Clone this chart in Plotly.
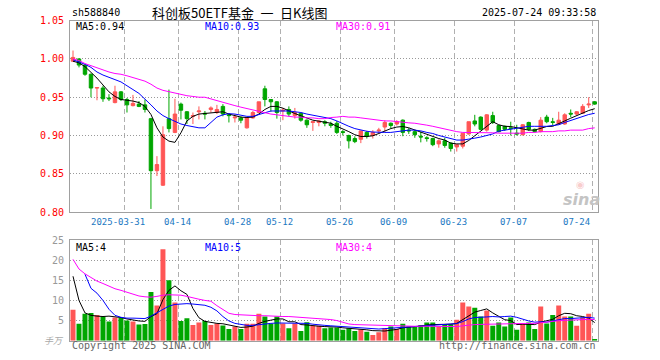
import plotly.graph_objects as go

# ---------------- data ----------------
dates = ["2025-03-18","2025-03-19","2025-03-20","2025-03-21","2025-03-24","2025-03-25","2025-03-26","2025-03-27","2025-03-28","2025-03-31",
         "2025-04-01","2025-04-02","2025-04-03","2025-04-07","2025-04-08","2025-04-09","2025-04-10","2025-04-11","2025-04-14","2025-04-15",
         "2025-04-16","2025-04-17","2025-04-18","2025-04-21","2025-04-22","2025-04-23","2025-04-24","2025-04-25","2025-04-28","2025-04-29",
         "2025-04-30","2025-05-06","2025-05-07","2025-05-08","2025-05-09","2025-05-12","2025-05-13","2025-05-14","2025-05-15","2025-05-16",
         "2025-05-19","2025-05-20","2025-05-21","2025-05-22","2025-05-23","2025-05-26","2025-05-27","2025-05-28","2025-05-29","2025-05-30",
         "2025-06-03","2025-06-04","2025-06-05","2025-06-06","2025-06-09","2025-06-10","2025-06-11","2025-06-12","2025-06-13","2025-06-16",
         "2025-06-17","2025-06-18","2025-06-19","2025-06-20","2025-06-23","2025-06-24","2025-06-25","2025-06-26","2025-06-27","2025-06-30",
         "2025-07-01","2025-07-02","2025-07-03","2025-07-04","2025-07-07","2025-07-08","2025-07-09","2025-07-10","2025-07-11","2025-07-14",
         "2025-07-15","2025-07-16","2025-07-17","2025-07-18","2025-07-21","2025-07-22","2025-07-23","2025-07-24"]

opens = [0.997,1.000,0.992,0.980,0.962,0.962,0.949,0.943,0.957,0.947,
         0.939,0.941,0.940,0.922,0.854,0.835,0.922,0.904,0.941,0.931,
         0.925,0.931,0.929,0.934,0.930,0.938,0.927,0.923,0.923,0.910,
         0.923,0.930,0.961,0.947,0.944,0.932,0.934,0.926,0.929,0.920,
         0.917,0.917,0.918,0.915,0.916,0.905,0.900,0.896,0.895,0.904,
         0.900,0.906,0.911,0.916,0.915,0.920,0.907,0.905,0.899,0.897,
         0.896,0.889,0.893,0.890,0.885,0.886,0.902,0.919,0.924,0.907,
         0.926,0.913,0.912,0.910,0.903,0.901,0.917,0.908,0.905,0.924,
         0.918,0.915,0.915,0.929,0.928,0.929,0.940,0.944]
highs = [1.011,1.001,0.993,0.981,0.963,0.965,0.954,0.965,0.958,0.949,
         0.953,0.945,0.947,0.923,0.873,0.912,0.960,0.948,0.943,0.932,
         0.930,0.938,0.932,0.938,0.940,0.941,0.929,0.928,0.925,0.924,
         0.932,0.944,0.965,0.947,0.945,0.936,0.938,0.936,0.930,0.921,
         0.918,0.920,0.920,0.918,0.919,0.907,0.901,0.899,0.906,0.906,
         0.907,0.910,0.920,0.917,0.920,0.921,0.910,0.907,0.905,0.899,
         0.897,0.895,0.897,0.891,0.889,0.903,0.918,0.927,0.925,0.928,
         0.931,0.914,0.913,0.918,0.914,0.915,0.918,0.909,0.924,0.927,
         0.923,0.931,0.929,0.934,0.932,0.941,0.950,0.945]
lows = [0.996,0.989,0.978,0.950,0.946,0.944,0.945,0.942,0.945,0.930,
        0.938,0.937,0.930,0.804,0.847,0.834,0.904,0.903,0.921,0.915,
        0.915,0.921,0.921,0.930,0.928,0.925,0.917,0.917,0.916,0.909,
        0.922,0.929,0.938,0.931,0.922,0.920,0.925,0.922,0.918,0.910,
        0.906,0.912,0.912,0.910,0.902,0.900,0.883,0.890,0.890,0.896,
        0.896,0.902,0.905,0.909,0.913,0.899,0.902,0.897,0.891,0.892,
        0.886,0.884,0.884,0.879,0.879,0.883,0.901,0.912,0.907,0.905,
        0.915,0.904,0.906,0.900,0.900,0.900,0.906,0.904,0.904,0.916,
        0.913,0.914,0.914,0.924,0.926,0.928,0.936,0.940]
closes = [1.002,0.992,0.980,0.962,0.9625,0.948,0.948,0.957,0.947,0.940,
          0.942,0.938,0.934,0.854,0.862,0.901,0.909,0.928,0.933,0.922,
          0.926,0.932,0.928,0.936,0.934,0.928,0.926,0.924,0.920,0.923,
          0.930,0.944,0.947,0.944,0.930,0.933,0.928,0.930,0.920,0.914,
          0.918,0.919,0.916,0.913,0.904,0.904,0.893,0.892,0.906,0.899,
          0.904,0.907,0.917,0.913,0.918,0.904,0.906,0.901,0.898,0.896,
          0.888,0.893,0.887,0.883,0.888,0.903,0.918,0.915,0.908,0.927,
          0.917,0.905,0.908,0.909,0.902,0.914,0.908,0.905,0.920,0.918,
          0.917,0.920,0.927,0.928,0.931,0.938,0.941,0.941]

ma5 = [0.997,0.995,0.990,0.983,0.975,0.966,0.957,0.951,0.947,0.946,
       0.945,0.943,0.938,0.9275,0.910,0.898,0.8926,0.891,0.9035,0.919,
       0.925,0.928,0.9287,0.930,0.931,0.931,0.928,0.9257,0.924,0.9235,
       0.924,0.928,0.934,0.938,0.938,0.9357,0.932,0.9287,0.9257,0.9226,
       0.920,0.9187,0.917,0.916,0.912,0.909,0.905,0.901,0.8987,0.8987,
       0.8996,0.9026,0.906,0.909,0.911,0.9117,0.910,0.907,0.904,0.901,
       0.898,0.896,0.894,0.890,0.889,0.889,0.8935,0.8996,0.906,0.9126,
       0.918,0.914,0.912,0.9117,0.910,0.908,0.907,0.907,0.909,0.9117,
       0.912,0.915,0.919,0.9226,0.926,0.9296,0.9326,0.935]
ma10 = [0.999,0.9965,0.993,0.989,0.983,0.979,0.9755,0.973,0.970,0.9646,
        0.960,0.955,0.948,0.940,0.932,0.926,0.922,0.918,0.915,0.913,
        0.911,0.910,0.910,0.917,0.924,0.927,0.9285,0.928,0.9265,0.925,
        0.925,0.927,0.930,0.932,0.932,0.932,0.932,0.931,0.930,0.928,
        0.9265,0.925,0.9235,0.922,0.919,0.915,0.912,0.909,0.907,0.9055,
        0.9045,0.904,0.904,0.904,0.905,0.906,0.907,0.907,0.906,0.904,
        0.9026,0.900,0.898,0.8957,0.894,0.894,0.895,0.8965,0.898,0.8996,
        0.902,0.9057,0.907,0.909,0.9096,0.911,0.912,0.912,0.912,0.912,
        0.913,0.914,0.917,0.9196,0.922,0.925,0.9274,0.929]
ma30 = [1.000,0.998,0.994,0.991,0.988,0.985,0.983,0.981,0.980,0.978,
        0.976,0.974,0.971,0.967,0.962,0.959,0.957,0.955,0.954,0.952,
        0.951,0.950,0.950,0.948,0.946,0.944,0.941,0.939,0.937,0.935,
        0.933,0.931,0.929,0.928,0.927,0.926,0.925,0.924,0.924,0.923,
        0.923,0.922,0.922,0.9235,0.924,0.925,0.924,0.924,0.923,0.922,
        0.921,0.920,0.919,0.919,0.918,0.917,0.9165,0.916,0.915,0.9135,
        0.912,0.910,0.908,0.906,0.905,0.904,0.904,0.904,0.9035,0.9035,
        0.9035,0.903,0.903,0.903,0.903,0.903,0.904,0.904,0.905,0.905,
        0.905,0.906,0.906,0.907,0.907,0.907,0.909,0.910]

volumes = [7.7,4.2,6.7,6.9,6.4,6.0,4.75,5.75,5.65,5.0,
           4.75,4.0,4.15,12.1,8.75,22.7,15.0,9.5,4.9,5.6,
           3.9,4.5,4.9,3.9,4.3,3.75,2.9,3.5,2.9,4.2,
           4.2,6.7,6.0,4.2,6.0,4.3,3.1,4.3,2.4,4.6,
           3.7,3.7,3.1,3.25,3.25,2.7,3.1,2.4,2.8,2.25,
           1.4,2.1,3.1,3.5,2.9,4.2,3.5,3.5,3.9,4.5,
           4.5,3.5,4.1,4.1,5.2,9.5,8.5,8.2,6.0,7.5,
           3.7,4.5,3.5,5.75,2.7,4.2,4.5,2.9,8.5,4.3,
           6.4,8.75,6.0,6.0,3.7,5.75,6.7,0.4]
vma5 = [16.0,10.0,6.9,6.3,6.1,6.0,6.1,6.0,5.75,5.4,
        5.1,4.9,4.8,6.0,6.7,10.2,12.5,13.6,12.4,11.5,
        8.0,5.7,4.8,4.5,4.3,4.2,3.9,3.7,3.3,3.4,
        3.6,4.3,4.8,5.1,5.4,5.4,4.7,4.7,4.0,3.9,
        3.7,3.6,3.5,3.5,3.4,3.2,3.1,2.9,2.8,2.7,
        2.5,2.4,2.4,2.6,2.8,3.2,3.4,3.5,3.6,3.9,
        4.0,4.0,4.1,4.1,4.3,5.3,6.3,7.1,7.5,7.9,
        6.9,6.1,5.2,5.0,4.0,4.1,4.1,4.0,4.6,4.9,
        5.3,6.2,6.8,6.7,6.2,6.0,5.6,4.5]
vma10 = [None,None,16.5,13.0,11.8,10.0,7.8,6.3,5.8,5.6,
         5.6,5.6,5.5,6.1,6.9,7.8,8.6,9.0,9.1,9.2,
         9.1,9.0,8.8,8.3,7.4,6.0,4.9,4.3,4.0,3.8,
         3.8,4.0,4.1,4.3,4.4,4.4,4.4,4.4,4.4,4.3,
         4.1,3.9,3.8,3.7,3.6,3.5,3.3,3.2,3.1,3.0,
         2.9,2.9,3.0,3.1,3.2,3.25,3.3,3.4,3.5,3.7,
         3.75,3.8,3.9,4.0,4.25,4.75,5.4,5.75,5.9,5.9,
         6.0,5.9,6.0,6.1,5.8,5.3,4.9,4.6,4.7,4.6,
         4.9,5.3,5.5,5.5,5.6,5.7,5.8,5.6]
vma30 = [20.2,17.8,16.6,15.6,14.8,14.2,13.5,12.9,12.5,12.0,
         11.6,11.1,10.9,10.8,11.0,11.3,11.4,11.4,11.3,11.0,
         10.6,10.3,10.0,9.8,8.7,7.8,6.8,6.5,6.4,6.3,
         6.25,6.2,6.2,6.1,6.0,6.0,6.0,5.9,5.9,5.8,
         5.7,5.6,5.5,5.25,5.0,4.5,4.15,4.0,3.95,3.85,
         3.75,3.7,3.65,3.6,3.55,3.56,3.58,3.58,3.6,3.6,
         3.6,3.53,3.48,3.48,3.5,3.7,3.9,4.0,4.05,4.1,
         4.1,4.15,4.15,4.2,4.2,4.25,4.3,4.3,4.5,4.6,
         4.75,4.95,5.05,5.15,5.2,5.25,5.3,5.25]

label_dates = ["2025-03-31","2025-04-14","2025-04-28","2025-05-12","2025-05-26",
               "2025-06-09","2025-06-23","2025-07-07","2025-07-24"]
label_texts = ["2025-03-31","04-14","04-28","05-12","05-26","06-09","06-23","07-07","07-24"]
price_ticks = [0.80, 0.85, 0.90, 0.95, 1.00, 1.05]
vol_ticks = [5, 10, 15, 20, 25]

code = "sh588840"
title = "科创板50ETF基金\u2002一\u2002日K线图"
stamp = "2025-07-24 09:33:58"
legend_price = ["MA5:0.94", "MA10:0.93", "MA30:0.91"]
legend_vol = ["MA5:4", "MA10:5", "MA30:4"]

# ---------------- styling ----------------
RED = "#ff5656"
GREEN = "#00a600"
MONO = "DejaVu Sans Mono"
W, H = 660, 360
X0, X1 = 70, 597.7
P_TOP, P_BOT = 20.7, 212.0
V_TOP, V_BOT = 240.0, 340.7

def py(px):
    return 1 - px / H

x = list(range(len(dates)))
grid_idx = [dates.index(d) for d in label_dates]
vol_colors = [RED if c >= o else GREEN for o, c in zip(opens, closes)]

fig = go.Figure()
fig.add_trace(go.Candlestick(
    x=x, open=opens, high=highs, low=lows, close=closes,
    increasing=dict(line=dict(color=RED, width=1), fillcolor=RED),
    decreasing=dict(line=dict(color=GREEN, width=1), fillcolor=GREEN),
    whiskerwidth=0, hoverinfo="skip", xaxis="x", yaxis="y"))
for ys, col in [(ma5, "black"), (ma10, "#0000ff"), (ma30, "#ff00ff")]:
    fig.add_trace(go.Scatter(x=x, y=ys, mode="lines", line=dict(color=col, width=1),
                             hoverinfo="skip", xaxis="x", yaxis="y"))
fig.add_trace(go.Bar(x=x, y=volumes, marker=dict(color=vol_colors, line=dict(width=0)),
                     width=0.83, hoverinfo="skip", xaxis="x2", yaxis="y2"))
for ys, col in [(vma5, "black"), (vma10, "#0000ff"), (vma30, "#ff00ff")]:
    fig.add_trace(go.Scatter(x=x, y=ys, mode="lines", line=dict(color=col, width=1),
                             hoverinfo="skip", xaxis="x2", yaxis="y2"))

xdom = [X0 / W, X1 / W]
gridvals = [i - 0.42 for i in grid_idx]
xcommon = dict(domain=xdom, range=[-0.5, len(dates) - 0.5], tickvals=gridvals,
               showticklabels=False, ticks="", showgrid=True, griddash="5px,3px",
               gridcolor="#b0b0b0", gridwidth=1, showline=True, mirror=True,
               linecolor="#a0a0a0", linewidth=1, zeroline=False, fixedrange=True,
               automargin=False)

fig.update_layout(
    width=W, height=H, autosize=False, margin=dict(l=0, r=0, t=0, b=0, pad=0),
    paper_bgcolor="white", plot_bgcolor="white", showlegend=False,
    boxgap=0.18, bargap=0.1, hovermode=False,
    xaxis=dict(**xcommon, anchor="y", rangeslider=dict(visible=False)),
    xaxis2=dict(**xcommon, anchor="y2"),
    yaxis=dict(domain=[py(P_BOT), py(P_TOP)], range=[0.80, 1.05], tickvals=price_ticks,
               ticktext=["%.2f" % v for v in price_ticks], ticks="",
               tickfont=dict(family=MONO, size=10, color="#ff0000"),
               showgrid=True, griddash="1px,2px", gridcolor="#999999", gridwidth=1,
               showline=True, mirror=True, linecolor="#a0a0a0", linewidth=1,
               zeroline=False, anchor="x", ticklabelstandoff=3, automargin=False,
               fixedrange=True),
    yaxis2=dict(domain=[py(V_BOT), py(V_TOP)], range=[0, 25], tickvals=vol_ticks,
                ticktext=[str(v) for v in vol_ticks], ticks="",
                tickfont=dict(family=MONO, size=10, color="#999999"),
                showgrid=True, griddash="1px,2px", gridcolor="#999999", gridwidth=1,
                showline=True, mirror=True, linecolor="#a0a0a0", linewidth=1,
                zeroline=False, anchor="x2", ticklabelstandoff=3, automargin=False,
                fixedrange=True),
)

ann = []
def txt(t, xp, yp, anchor="left", color="black", size=10, family=MONO, **kw):
    ann.append(dict(text=t, x=xp / W, y=py(yp), xref="paper", yref="paper",
                    xanchor=anchor, yanchor="middle", showarrow=False,
                    font=dict(family=family, size=size, color=color, **kw)))

txt(code, 70, 13)
txt(title, 150, 12.5, size=13, family="Noto Sans CJK SC, Noto Sans, sans-serif")
txt(stamp, 598, 13, anchor="right")
for t, xp, c in zip(legend_price, [74, 203, 334], ["black", "#0000ff", "#ff00ff"]):
    txt(t, xp, 26.5, color=c)
for t, xp, c in zip(legend_vol, [74, 203, 334], ["black", "#0000ff", "#ff00ff"]):
    txt(t, xp, 247, color=c)
txt("手万", 66, 340, anchor="right", color="#aaaaaa", size=9,
    family="Noto Sans CJK SC, sans-serif", style="italic")
txt("Copyright 2025 SINA.COM", 70, 345.5, color="#666666")
txt("http://finance.sina.com.cn", 598, 345.5, anchor="right", color="#666666")
txt("◉", 580, 184, anchor="center", color="rgba(235,110,110,0.35)", size=10,
    family="DejaVu Sans")
txt("sina", 581, 199, anchor="center", color="#c4c4c4", size=16,
    family="DejaVu Sans", style="italic", weight="bold")

# date labels between the panels
for k, (gi, t) in enumerate(zip(grid_idx, label_texts)):
    if k == 0:
        xa, xv = "center", gi - 1.5
    elif k == len(grid_idx) - 1:
        xa, xv = "right", gi - 0.45
    else:
        xa, xv = "center", gi - 0.6
    ann.append(dict(text=t, x=xv, y=py(222), xref="x", yref="paper", xanchor=xa,
                    yanchor="middle", showarrow=False,
                    font=dict(family=MONO, size=9, color="#1a78c2")))

fig.update_layout(annotations=ann)
fig.write_html("out.html", config={"displayModeBar": False, "staticPlot": True},
               post_script="document.body.style.margin='0px';document.body.style.padding='0px';document.documentElement.style.overflow='hidden';")
